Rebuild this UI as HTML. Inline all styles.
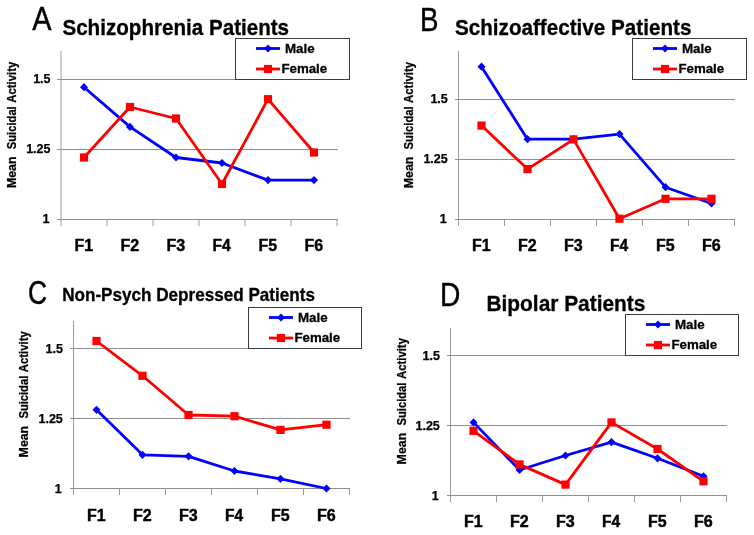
<!DOCTYPE html>
<html><head><meta charset="utf-8"><style>
html,body{margin:0;padding:0;background:#fff;}
svg{display:block;font-family:"Liberation Sans",sans-serif;will-change:transform;}
</style></head><body>
<svg width="754" height="535" viewBox="0 0 754 535">
<rect width="754" height="535" fill="#fff"/>
<g>
<text transform="translate(32.18,29.50) scale(0.8909,1)" font-size="32.4" font-weight="normal" fill="#000" stroke="#000" stroke-width="0.45" stroke-linejoin="round" style="white-space:pre">A</text>
<text transform="translate(62.43,35.00) scale(0.9587,1)" font-size="21.5" font-weight="bold" fill="#000" stroke="#000" stroke-width="0.3" stroke-linejoin="round" style="white-space:pre">Schizophrenia Patients</text>
<rect x="60.0" y="51" width="2" height="175" fill="#cfcfcf"/>
<rect x="106.0" y="220" width="2" height="6" fill="#cfcfcf"/>
<rect x="152.0" y="220" width="2" height="6" fill="#cfcfcf"/>
<rect x="198.0" y="220" width="2" height="6" fill="#cfcfcf"/>
<rect x="244.0" y="220" width="2" height="6" fill="#cfcfcf"/>
<rect x="290.0" y="220" width="2" height="6" fill="#cfcfcf"/>
<rect x="336.0" y="220" width="2" height="6" fill="#cfcfcf"/>
<rect x="57.0" y="79" width="281.0" height="1" fill="#8f8f8f"/>
<rect x="57.0" y="149" width="281.0" height="1" fill="#8f8f8f"/>
<rect x="57.0" y="219" width="281.0" height="1" fill="#8f8f8f"/>
<text transform="translate(33.17,83.10) scale(1.0000,1)" font-size="12.5" font-weight="bold" stroke="#000" stroke-width="0.25" stroke-linejoin="round">1.5</text>
<text transform="translate(26.17,153.10) scale(1.0000,1)" font-size="12.5" font-weight="bold" stroke="#000" stroke-width="0.25" stroke-linejoin="round">1.25</text>
<text transform="translate(42.45,223.10) scale(1.0000,1)" font-size="12.5" font-weight="bold" stroke="#000" stroke-width="0.25" stroke-linejoin="round">1</text>
<text transform="translate(74.39,251.20) scale(0.9169,1)" font-size="17.4" font-weight="bold" fill="#000" stroke="#000" stroke-width="0.45" stroke-linejoin="round" style="white-space:pre">F1</text>
<text transform="translate(120.38,251.20) scale(0.9255,1)" font-size="17.4" font-weight="bold" fill="#000" stroke="#000" stroke-width="0.45" stroke-linejoin="round" style="white-space:pre">F2</text>
<text transform="translate(166.38,251.20) scale(0.9255,1)" font-size="17.4" font-weight="bold" fill="#000" stroke="#000" stroke-width="0.45" stroke-linejoin="round" style="white-space:pre">F3</text>
<text transform="translate(212.41,251.20) scale(0.8960,1)" font-size="17.4" font-weight="bold" fill="#000" stroke="#000" stroke-width="0.45" stroke-linejoin="round" style="white-space:pre">F4</text>
<text transform="translate(258.39,251.20) scale(0.9169,1)" font-size="17.4" font-weight="bold" fill="#000" stroke="#000" stroke-width="0.45" stroke-linejoin="round" style="white-space:pre">F5</text>
<text transform="translate(304.38,251.20) scale(0.9255,1)" font-size="17.4" font-weight="bold" fill="#000" stroke="#000" stroke-width="0.45" stroke-linejoin="round" style="white-space:pre">F6</text>
<text transform="translate(15.60,188.08) rotate(-90) scale(1.0392,1)" font-size="11.9" font-weight="bold" fill="#000" stroke="#000" stroke-width="0.25" stroke-linejoin="round" style="white-space:pre">Mean</text>
<text transform="translate(15.60,149.21) rotate(-90) scale(0.9416,1)" font-size="11.9" font-weight="bold" fill="#000" stroke="#000" stroke-width="0.25" stroke-linejoin="round" style="white-space:pre">Suicidal</text>
<text transform="translate(15.60,102.76) rotate(-90) scale(0.9542,1)" font-size="11.9" font-weight="bold" fill="#000" stroke="#000" stroke-width="0.25" stroke-linejoin="round" style="white-space:pre">Activity</text>
<rect x="235.5" y="38.5" width="114" height="41" fill="#fff" stroke="#3c3c3c" stroke-width="1"/>
<line x1="256" y1="48.5" x2="280" y2="48.5" stroke="#0000ff" stroke-width="2.8"/>
<path d="M268.00 44.40L272.00 48.50L268.00 52.60L264.00 48.50Z" fill="#0000ff"/>
<line x1="256" y1="69" x2="280" y2="69" stroke="#ff0000" stroke-width="2.8"/>
<rect x="263.90" y="64.90" width="8.20" height="8.20" fill="#ff0000"/>
<text transform="translate(284.98,52.60) scale(0.9900,1)" font-size="13.5" font-weight="bold" fill="#000" stroke="#000" stroke-width="0.3" stroke-linejoin="round" style="white-space:pre">Male</text>
<text transform="translate(281.39,73.00) scale(0.9854,1)" font-size="13.5" font-weight="bold" fill="#000" stroke="#000" stroke-width="0.3" stroke-linejoin="round" style="white-space:pre">Female</text>
<polyline points="84.0,87.2 130.0,126.9 176.0,157.5 222.0,163.0 268.0,180.1 314.0,180.1" fill="none" stroke="#0000ff" stroke-width="2.8" stroke-linejoin="round"/>
<path d="M84.00 83.10L88.00 87.20L84.00 91.30L80.00 87.20Z" fill="#0000ff"/>
<path d="M130.00 122.80L134.00 126.90L130.00 131.00L126.00 126.90Z" fill="#0000ff"/>
<path d="M176.00 153.40L180.00 157.50L176.00 161.60L172.00 157.50Z" fill="#0000ff"/>
<path d="M222.00 158.90L226.00 163.00L222.00 167.10L218.00 163.00Z" fill="#0000ff"/>
<path d="M268.00 176.00L272.00 180.10L268.00 184.20L264.00 180.10Z" fill="#0000ff"/>
<path d="M314.00 176.00L318.00 180.10L314.00 184.20L310.00 180.10Z" fill="#0000ff"/>
<polyline points="84.0,157.5 130.0,107.0 176.0,118.5 222.0,184.0 268.0,99.2 314.0,152.5" fill="none" stroke="#ff0000" stroke-width="2.8" stroke-linejoin="round"/>
<rect x="79.90" y="153.40" width="8.20" height="8.20" fill="#ff0000"/>
<rect x="125.90" y="102.90" width="8.20" height="8.20" fill="#ff0000"/>
<rect x="171.90" y="114.40" width="8.20" height="8.20" fill="#ff0000"/>
<rect x="217.90" y="179.90" width="8.20" height="8.20" fill="#ff0000"/>
<rect x="263.90" y="95.10" width="8.20" height="8.20" fill="#ff0000"/>
<rect x="309.90" y="148.40" width="8.20" height="8.20" fill="#ff0000"/>
</g>
<g>
<text transform="translate(420.10,31.40) scale(0.8567,1)" font-size="32.4" font-weight="normal" fill="#000" stroke="#000" stroke-width="0.45" stroke-linejoin="round" style="white-space:pre">B</text>
<text transform="translate(454.93,35.00) scale(0.9613,1)" font-size="21.5" font-weight="bold" fill="#000" stroke="#000" stroke-width="0.3" stroke-linejoin="round" style="white-space:pre">Schizoaffective Patients</text>
<rect x="458.0" y="51" width="1" height="175" fill="#9a9a9a"/>
<rect x="504.0" y="220" width="1" height="6" fill="#9a9a9a"/>
<rect x="550.0" y="220" width="1" height="6" fill="#9a9a9a"/>
<rect x="596.0" y="220" width="1" height="6" fill="#9a9a9a"/>
<rect x="642.0" y="220" width="1" height="6" fill="#9a9a9a"/>
<rect x="688.0" y="220" width="1" height="6" fill="#9a9a9a"/>
<rect x="734.0" y="220" width="1" height="6" fill="#9a9a9a"/>
<rect x="455.0" y="99" width="280.0" height="1" fill="#8f8f8f"/>
<rect x="455.0" y="159" width="280.0" height="1" fill="#8f8f8f"/>
<rect x="455.0" y="219" width="280.0" height="1" fill="#8f8f8f"/>
<text transform="translate(430.38,103.10) scale(1.0000,1)" font-size="12.5" font-weight="bold" stroke="#000" stroke-width="0.25" stroke-linejoin="round">1.5</text>
<text transform="translate(423.38,163.10) scale(1.0000,1)" font-size="12.5" font-weight="bold" stroke="#000" stroke-width="0.25" stroke-linejoin="round">1.25</text>
<text transform="translate(439.65,223.10) scale(1.0000,1)" font-size="12.5" font-weight="bold" stroke="#000" stroke-width="0.25" stroke-linejoin="round">1</text>
<text transform="translate(471.89,251.20) scale(0.9169,1)" font-size="17.4" font-weight="bold" fill="#000" stroke="#000" stroke-width="0.45" stroke-linejoin="round" style="white-space:pre">F1</text>
<text transform="translate(517.88,251.20) scale(0.9255,1)" font-size="17.4" font-weight="bold" fill="#000" stroke="#000" stroke-width="0.45" stroke-linejoin="round" style="white-space:pre">F2</text>
<text transform="translate(563.88,251.20) scale(0.9255,1)" font-size="17.4" font-weight="bold" fill="#000" stroke="#000" stroke-width="0.45" stroke-linejoin="round" style="white-space:pre">F3</text>
<text transform="translate(609.91,251.20) scale(0.8960,1)" font-size="17.4" font-weight="bold" fill="#000" stroke="#000" stroke-width="0.45" stroke-linejoin="round" style="white-space:pre">F4</text>
<text transform="translate(655.89,251.20) scale(0.9169,1)" font-size="17.4" font-weight="bold" fill="#000" stroke="#000" stroke-width="0.45" stroke-linejoin="round" style="white-space:pre">F5</text>
<text transform="translate(701.88,251.20) scale(0.9255,1)" font-size="17.4" font-weight="bold" fill="#000" stroke="#000" stroke-width="0.45" stroke-linejoin="round" style="white-space:pre">F6</text>
<text transform="translate(413.40,188.28) rotate(-90) scale(1.0400,1)" font-size="11.9" font-weight="bold" fill="#000" stroke="#000" stroke-width="0.25" stroke-linejoin="round" style="white-space:pre">Mean</text>
<text transform="translate(413.40,149.38) rotate(-90) scale(0.9423,1)" font-size="11.9" font-weight="bold" fill="#000" stroke="#000" stroke-width="0.25" stroke-linejoin="round" style="white-space:pre">Suicidal</text>
<text transform="translate(413.40,102.89) rotate(-90) scale(0.9549,1)" font-size="11.9" font-weight="bold" fill="#000" stroke="#000" stroke-width="0.25" stroke-linejoin="round" style="white-space:pre">Activity</text>
<rect x="632.5" y="38.5" width="114" height="41" fill="#fff" stroke="#3c3c3c" stroke-width="1"/>
<line x1="653" y1="48.5" x2="677" y2="48.5" stroke="#0000ff" stroke-width="2.8"/>
<path d="M665.00 44.40L669.00 48.50L665.00 52.60L661.00 48.50Z" fill="#0000ff"/>
<line x1="653" y1="69" x2="677" y2="69" stroke="#ff0000" stroke-width="2.8"/>
<rect x="660.90" y="64.90" width="8.20" height="8.20" fill="#ff0000"/>
<text transform="translate(681.98,52.60) scale(0.9900,1)" font-size="13.5" font-weight="bold" fill="#000" stroke="#000" stroke-width="0.3" stroke-linejoin="round" style="white-space:pre">Male</text>
<text transform="translate(678.39,73.00) scale(0.9854,1)" font-size="13.5" font-weight="bold" fill="#000" stroke="#000" stroke-width="0.3" stroke-linejoin="round" style="white-space:pre">Female</text>
<polyline points="481.5,66.7 527.5,139.2 573.5,139.2 619.5,134.1 665.5,187.2 711.5,203.5" fill="none" stroke="#0000ff" stroke-width="2.8" stroke-linejoin="round"/>
<path d="M481.50 62.60L485.50 66.70L481.50 70.80L477.50 66.70Z" fill="#0000ff"/>
<path d="M527.50 135.10L531.50 139.20L527.50 143.30L523.50 139.20Z" fill="#0000ff"/>
<path d="M573.50 135.10L577.50 139.20L573.50 143.30L569.50 139.20Z" fill="#0000ff"/>
<path d="M619.50 130.00L623.50 134.10L619.50 138.20L615.50 134.10Z" fill="#0000ff"/>
<path d="M665.50 183.10L669.50 187.20L665.50 191.30L661.50 187.20Z" fill="#0000ff"/>
<path d="M711.50 199.40L715.50 203.50L711.50 207.60L707.50 203.50Z" fill="#0000ff"/>
<polyline points="481.5,125.6 527.5,169.1 573.5,139.4 619.5,218.7 665.5,198.8 711.5,198.8" fill="none" stroke="#ff0000" stroke-width="2.8" stroke-linejoin="round"/>
<rect x="477.40" y="121.50" width="8.20" height="8.20" fill="#ff0000"/>
<rect x="523.40" y="165.00" width="8.20" height="8.20" fill="#ff0000"/>
<rect x="569.40" y="135.30" width="8.20" height="8.20" fill="#ff0000"/>
<rect x="615.40" y="214.60" width="8.20" height="8.20" fill="#ff0000"/>
<rect x="661.40" y="194.70" width="8.20" height="8.20" fill="#ff0000"/>
<rect x="707.40" y="194.70" width="8.20" height="8.20" fill="#ff0000"/>
</g>
<g>
<text transform="translate(27.91,304.30) scale(0.8141,1)" font-size="32.4" font-weight="normal" fill="#000" stroke="#000" stroke-width="0.45" stroke-linejoin="round" style="white-space:pre">C</text>
<text transform="translate(62.14,300.70) scale(0.9510,1)" font-size="18" font-weight="bold" fill="#000" stroke="#000" stroke-width="0.3" stroke-linejoin="round" style="white-space:pre">Non-Psych Depressed Patients</text>
<rect x="73.0" y="321" width="1" height="174" fill="#9a9a9a"/>
<rect x="119.0" y="489" width="1" height="6" fill="#9a9a9a"/>
<rect x="165.0" y="489" width="1" height="6" fill="#9a9a9a"/>
<rect x="211.0" y="489" width="1" height="6" fill="#9a9a9a"/>
<rect x="257.0" y="489" width="1" height="6" fill="#9a9a9a"/>
<rect x="303.0" y="489" width="1" height="6" fill="#9a9a9a"/>
<rect x="349.0" y="489" width="1" height="6" fill="#9a9a9a"/>
<rect x="70.0" y="348" width="280.0" height="1" fill="#8f8f8f"/>
<rect x="70.0" y="418" width="280.0" height="1" fill="#8f8f8f"/>
<rect x="70.0" y="488" width="280.0" height="1" fill="#8f8f8f"/>
<text transform="translate(45.48,352.90) scale(1.0000,1)" font-size="12.5" font-weight="bold" stroke="#000" stroke-width="0.25" stroke-linejoin="round">1.5</text>
<text transform="translate(38.48,422.90) scale(1.0000,1)" font-size="12.5" font-weight="bold" stroke="#000" stroke-width="0.25" stroke-linejoin="round">1.25</text>
<text transform="translate(54.75,492.90) scale(1.0000,1)" font-size="12.5" font-weight="bold" stroke="#000" stroke-width="0.25" stroke-linejoin="round">1</text>
<text transform="translate(86.89,520.80) scale(0.9169,1)" font-size="17.4" font-weight="bold" fill="#000" stroke="#000" stroke-width="0.45" stroke-linejoin="round" style="white-space:pre">F1</text>
<text transform="translate(132.88,520.80) scale(0.9255,1)" font-size="17.4" font-weight="bold" fill="#000" stroke="#000" stroke-width="0.45" stroke-linejoin="round" style="white-space:pre">F2</text>
<text transform="translate(178.88,520.80) scale(0.9255,1)" font-size="17.4" font-weight="bold" fill="#000" stroke="#000" stroke-width="0.45" stroke-linejoin="round" style="white-space:pre">F3</text>
<text transform="translate(224.91,520.80) scale(0.8960,1)" font-size="17.4" font-weight="bold" fill="#000" stroke="#000" stroke-width="0.45" stroke-linejoin="round" style="white-space:pre">F4</text>
<text transform="translate(270.89,520.80) scale(0.9169,1)" font-size="17.4" font-weight="bold" fill="#000" stroke="#000" stroke-width="0.45" stroke-linejoin="round" style="white-space:pre">F5</text>
<text transform="translate(316.88,520.80) scale(0.9255,1)" font-size="17.4" font-weight="bold" fill="#000" stroke="#000" stroke-width="0.45" stroke-linejoin="round" style="white-space:pre">F6</text>
<text transform="translate(27.70,457.38) rotate(-90) scale(1.0375,1)" font-size="11.9" font-weight="bold" fill="#000" stroke="#000" stroke-width="0.25" stroke-linejoin="round" style="white-space:pre">Mean</text>
<text transform="translate(27.70,418.57) rotate(-90) scale(0.9401,1)" font-size="11.9" font-weight="bold" fill="#000" stroke="#000" stroke-width="0.25" stroke-linejoin="round" style="white-space:pre">Suicidal</text>
<text transform="translate(27.70,372.19) rotate(-90) scale(0.9527,1)" font-size="11.9" font-weight="bold" fill="#000" stroke="#000" stroke-width="0.25" stroke-linejoin="round" style="white-space:pre">Activity</text>
<rect x="248.5" y="307.5" width="113" height="41" fill="#fff" stroke="#3c3c3c" stroke-width="1"/>
<line x1="269" y1="317.5" x2="293" y2="317.5" stroke="#0000ff" stroke-width="2.8"/>
<path d="M281.00 313.40L285.00 317.50L281.00 321.60L277.00 317.50Z" fill="#0000ff"/>
<line x1="269" y1="338" x2="293" y2="338" stroke="#ff0000" stroke-width="2.8"/>
<rect x="276.90" y="333.90" width="8.20" height="8.20" fill="#ff0000"/>
<text transform="translate(297.98,321.60) scale(0.9900,1)" font-size="13.5" font-weight="bold" fill="#000" stroke="#000" stroke-width="0.3" stroke-linejoin="round" style="white-space:pre">Male</text>
<text transform="translate(294.39,342.00) scale(0.9854,1)" font-size="13.5" font-weight="bold" fill="#000" stroke="#000" stroke-width="0.3" stroke-linejoin="round" style="white-space:pre">Female</text>
<polyline points="96.5,409.8 142.5,454.8 188.5,456.3 234.5,471.0 280.5,478.8 326.5,488.5" fill="none" stroke="#0000ff" stroke-width="2.8" stroke-linejoin="round"/>
<path d="M96.50 405.70L100.50 409.80L96.50 413.90L92.50 409.80Z" fill="#0000ff"/>
<path d="M142.50 450.70L146.50 454.80L142.50 458.90L138.50 454.80Z" fill="#0000ff"/>
<path d="M188.50 452.20L192.50 456.30L188.50 460.40L184.50 456.30Z" fill="#0000ff"/>
<path d="M234.50 466.90L238.50 471.00L234.50 475.10L230.50 471.00Z" fill="#0000ff"/>
<path d="M280.50 474.70L284.50 478.80L280.50 482.90L276.50 478.80Z" fill="#0000ff"/>
<path d="M326.50 484.40L330.50 488.50L326.50 492.60L322.50 488.50Z" fill="#0000ff"/>
<polyline points="96.5,341.0 142.5,375.8 188.5,415.0 234.5,416.2 280.5,429.9 326.5,424.7" fill="none" stroke="#ff0000" stroke-width="2.8" stroke-linejoin="round"/>
<rect x="92.40" y="336.90" width="8.20" height="8.20" fill="#ff0000"/>
<rect x="138.40" y="371.70" width="8.20" height="8.20" fill="#ff0000"/>
<rect x="184.40" y="410.90" width="8.20" height="8.20" fill="#ff0000"/>
<rect x="230.40" y="412.10" width="8.20" height="8.20" fill="#ff0000"/>
<rect x="276.40" y="425.80" width="8.20" height="8.20" fill="#ff0000"/>
<rect x="322.40" y="420.60" width="8.20" height="8.20" fill="#ff0000"/>
</g>
<g>
<text transform="translate(440.07,306.30) scale(0.8689,1)" font-size="32.4" font-weight="normal" fill="#000" stroke="#000" stroke-width="0.45" stroke-linejoin="round" style="white-space:pre">D</text>
<text transform="translate(486.49,311.30) scale(0.9711,1)" font-size="21.5" font-weight="bold" fill="#000" stroke="#000" stroke-width="0.3" stroke-linejoin="round" style="white-space:pre">Bipolar Patients</text>
<rect x="450.0" y="328" width="1" height="174" fill="#9a9a9a"/>
<rect x="496.0" y="496" width="1" height="6" fill="#9a9a9a"/>
<rect x="542.0" y="496" width="1" height="6" fill="#9a9a9a"/>
<rect x="588.0" y="496" width="1" height="6" fill="#9a9a9a"/>
<rect x="634.0" y="496" width="1" height="6" fill="#9a9a9a"/>
<rect x="680.0" y="496" width="1" height="6" fill="#9a9a9a"/>
<rect x="726.0" y="496" width="1" height="6" fill="#9a9a9a"/>
<rect x="447.0" y="355" width="280.0" height="1" fill="#8f8f8f"/>
<rect x="447.0" y="425" width="280.0" height="1" fill="#8f8f8f"/>
<rect x="447.0" y="495" width="280.0" height="1" fill="#8f8f8f"/>
<text transform="translate(422.48,360.10) scale(1.0000,1)" font-size="12.5" font-weight="bold" stroke="#000" stroke-width="0.25" stroke-linejoin="round">1.5</text>
<text transform="translate(415.48,430.10) scale(1.0000,1)" font-size="12.5" font-weight="bold" stroke="#000" stroke-width="0.25" stroke-linejoin="round">1.25</text>
<text transform="translate(431.75,500.10) scale(1.0000,1)" font-size="12.5" font-weight="bold" stroke="#000" stroke-width="0.25" stroke-linejoin="round">1</text>
<text transform="translate(463.89,527.20) scale(0.9169,1)" font-size="17.4" font-weight="bold" fill="#000" stroke="#000" stroke-width="0.45" stroke-linejoin="round" style="white-space:pre">F1</text>
<text transform="translate(509.88,527.20) scale(0.9255,1)" font-size="17.4" font-weight="bold" fill="#000" stroke="#000" stroke-width="0.45" stroke-linejoin="round" style="white-space:pre">F2</text>
<text transform="translate(555.88,527.20) scale(0.9255,1)" font-size="17.4" font-weight="bold" fill="#000" stroke="#000" stroke-width="0.45" stroke-linejoin="round" style="white-space:pre">F3</text>
<text transform="translate(601.91,527.20) scale(0.8960,1)" font-size="17.4" font-weight="bold" fill="#000" stroke="#000" stroke-width="0.45" stroke-linejoin="round" style="white-space:pre">F4</text>
<text transform="translate(647.89,527.20) scale(0.9169,1)" font-size="17.4" font-weight="bold" fill="#000" stroke="#000" stroke-width="0.45" stroke-linejoin="round" style="white-space:pre">F5</text>
<text transform="translate(693.88,527.20) scale(0.9255,1)" font-size="17.4" font-weight="bold" fill="#000" stroke="#000" stroke-width="0.45" stroke-linejoin="round" style="white-space:pre">F6</text>
<text transform="translate(405.50,464.38) rotate(-90) scale(1.0392,1)" font-size="11.9" font-weight="bold" fill="#000" stroke="#000" stroke-width="0.25" stroke-linejoin="round" style="white-space:pre">Mean</text>
<text transform="translate(405.50,425.51) rotate(-90) scale(0.9416,1)" font-size="11.9" font-weight="bold" fill="#000" stroke="#000" stroke-width="0.25" stroke-linejoin="round" style="white-space:pre">Suicidal</text>
<text transform="translate(405.50,379.06) rotate(-90) scale(0.9542,1)" font-size="11.9" font-weight="bold" fill="#000" stroke="#000" stroke-width="0.25" stroke-linejoin="round" style="white-space:pre">Activity</text>
<rect x="625.5" y="314.5" width="113" height="41" fill="#fff" stroke="#3c3c3c" stroke-width="1"/>
<line x1="646" y1="324.5" x2="670" y2="324.5" stroke="#0000ff" stroke-width="2.8"/>
<path d="M658.00 320.40L662.00 324.50L658.00 328.60L654.00 324.50Z" fill="#0000ff"/>
<line x1="646" y1="345" x2="670" y2="345" stroke="#ff0000" stroke-width="2.8"/>
<rect x="653.90" y="340.90" width="8.20" height="8.20" fill="#ff0000"/>
<text transform="translate(674.98,328.60) scale(0.9900,1)" font-size="13.5" font-weight="bold" fill="#000" stroke="#000" stroke-width="0.3" stroke-linejoin="round" style="white-space:pre">Male</text>
<text transform="translate(671.39,349.00) scale(0.9854,1)" font-size="13.5" font-weight="bold" fill="#000" stroke="#000" stroke-width="0.3" stroke-linejoin="round" style="white-space:pre">Female</text>
<polyline points="473.5,422.4 519.5,470.0 565.5,455.5 611.5,442.1 657.5,458.3 703.5,476.3" fill="none" stroke="#0000ff" stroke-width="2.8" stroke-linejoin="round"/>
<path d="M473.50 418.30L477.50 422.40L473.50 426.50L469.50 422.40Z" fill="#0000ff"/>
<path d="M519.50 465.90L523.50 470.00L519.50 474.10L515.50 470.00Z" fill="#0000ff"/>
<path d="M565.50 451.40L569.50 455.50L565.50 459.60L561.50 455.50Z" fill="#0000ff"/>
<path d="M611.50 438.00L615.50 442.10L611.50 446.20L607.50 442.10Z" fill="#0000ff"/>
<path d="M657.50 454.20L661.50 458.30L657.50 462.40L653.50 458.30Z" fill="#0000ff"/>
<path d="M703.50 472.20L707.50 476.30L703.50 480.40L699.50 476.30Z" fill="#0000ff"/>
<polyline points="473.5,430.8 519.5,464.4 565.5,484.6 611.5,422.4 657.5,449.0 703.5,481.3" fill="none" stroke="#ff0000" stroke-width="2.8" stroke-linejoin="round"/>
<rect x="469.40" y="426.70" width="8.20" height="8.20" fill="#ff0000"/>
<rect x="515.40" y="460.30" width="8.20" height="8.20" fill="#ff0000"/>
<rect x="561.40" y="480.50" width="8.20" height="8.20" fill="#ff0000"/>
<rect x="607.40" y="418.30" width="8.20" height="8.20" fill="#ff0000"/>
<rect x="653.40" y="444.90" width="8.20" height="8.20" fill="#ff0000"/>
<rect x="699.40" y="477.20" width="8.20" height="8.20" fill="#ff0000"/>
</g>
</svg>
</body></html>
